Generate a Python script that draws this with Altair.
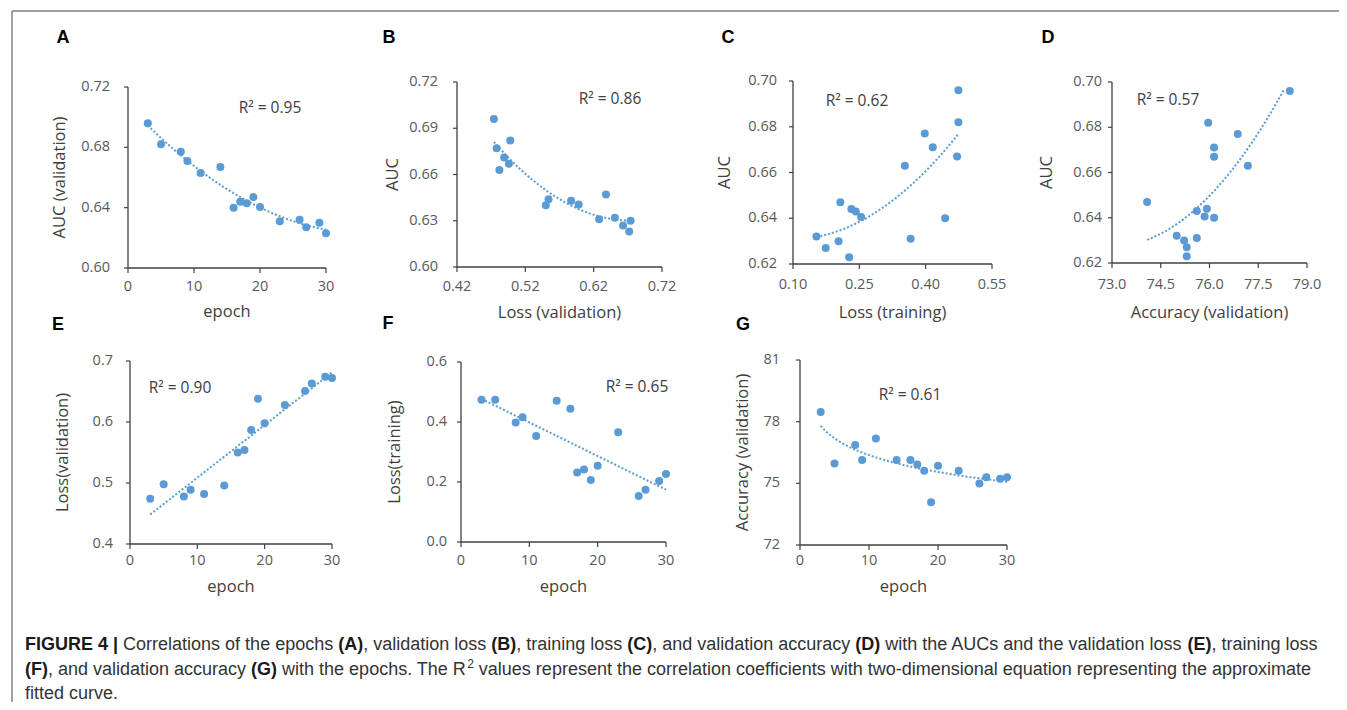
import altair as alt
import pandas as pd

# ---------------- data ----------------
epochs = [3, 5, 8, 9, 11, 14, 16, 17, 18, 19, 20, 23, 26, 27, 29, 30]
auc_val = [0.696, 0.682, 0.677, 0.671, 0.663, 0.667, 0.640, 0.644, 0.643, 0.647,
           0.6405, 0.631, 0.632, 0.627, 0.630, 0.623]
loss_val = [0.474, 0.498, 0.478, 0.489, 0.482, 0.496, 0.550, 0.554, 0.587, 0.638,
            0.598, 0.628, 0.651, 0.663, 0.674, 0.672]
loss_train = [0.474, 0.474, 0.398, 0.416, 0.353, 0.471, 0.444, 0.232, 0.242, 0.207,
              0.254, 0.366, 0.153, 0.174, 0.203, 0.227]
acc_val = [78.47, 75.96, 76.87, 76.14, 77.18, 76.14, 76.14, 75.92, 75.61, 74.08,
           75.85, 75.61, 74.99, 75.30, 75.22, 75.30]

panel_letters = ["A", "B", "C", "D", "E", "F", "G"]
r2_labels = ["R² = 0.95", "R² = 0.86", "R² = 0.62", "R² = 0.57",
             "R² = 0.90", "R² = 0.65", "R² = 0.61"]
x_titles = ["epoch", "Loss (validation)", "Loss (training)", "Accuracy (validation)",
            "epoch", "epoch", "epoch"]
y_titles = ["AUC (validation)", "AUC", "AUC", "AUC",
            "Loss(validation)", "Loss(training)", "Accuracy (validation)"]
x_series = [epochs, loss_val, loss_train, acc_val, epochs, epochs, epochs]
y_series = [auc_val, auc_val, auc_val, auc_val, loss_val, loss_train, acc_val]
x_domains = [[0, 30], [0.42, 0.72], [0.10, 0.55], [73.0, 79.0], [0, 30], [0, 30], [0, 30]]
y_domains = [[0.60, 0.72], [0.60, 0.72], [0.62, 0.70], [0.62, 0.70], [0.4, 0.7], [0.0, 0.6], [72, 81]]
x_ticks = [[0, 10, 20, 30], [0.42, 0.52, 0.62, 0.72], [0.10, 0.25, 0.40, 0.55],
           [73.0, 74.5, 76.0, 77.5, 79.0], [0, 10, 20, 30], [0, 10, 20, 30], [0, 10, 20, 30]]
y_ticks = [[0.60, 0.64, 0.68, 0.72], [0.60, 0.63, 0.66, 0.69, 0.72],
           [0.62, 0.64, 0.66, 0.68, 0.70], [0.62, 0.64, 0.66, 0.68, 0.70],
           [0.4, 0.5, 0.6, 0.7], [0.0, 0.2, 0.4, 0.6], [72, 75, 78, 81]]
x_formats = ["d", ".2f", ".2f", ".1f", "d", "d", "d"]
y_formats = [".2f", ".2f", ".2f", ".2f", ".1f", ".1f", "d"]
fit_methods = ["poly", "poly", "poly", "poly", "linear", "linear", "log"]

caption_line1 = [("FIGURE 4 |", "bold"), (" Correlations of the epochs ", "normal"), ("(A)", "bold"),
                 (", validation loss ", "normal"), ("(B)", "bold"), (", training loss ", "normal"),
                 ("(C)", "bold"), (", and validation accuracy ", "normal"), ("(D)", "bold"),
                 (" with the AUCs and the validation loss ", "normal"), ("(E)", "bold"),
                 (", training loss", "normal")]
caption_line2 = [("(F)", "bold"), (", and validation accuracy ", "normal"), ("(G)", "bold"),
                 (" with the epochs. The R", "normal"), ("2", "sup"),
                 (" values represent the correlation coefficients with two-dimensional equation representing the approximate", "normal")]
caption_line3 = [("fitted curve.", "normal")]

# ---------------- layout (pixels, chart coordinates) ----------------
W, H = 1331, 694
BLUE = "#5B9BD5"
AXIS_COL = "#404040"
LABEL_COL = "#595959"
FONT = "Open Sans"
x_ranges = [[120, 318], [449, 654], [785, 984], [1104, 1299], [122, 324], [453, 658], [792, 999]]
y_ranges = [[260, 79], [259, 74], [256, 73], [255, 74], [536, 353], [534, 354], [537, 352]]
y_title_x = [-68, -64, -68, -65, -67, -66, -57]
x_title_y = [44, 46, 49, 50, 43, 45, 42]
y_label_gap = [18, 19, 16, 10, 17, 14, 20]
x_label_gap = [19, 20, 21, 22, 17, 19, 16]
letter_pos = [(55, 30), (381, 30), (720, 30), (1040, 30), (50, 317), (380, 316), (735, 317)]
r2_pos = [(262, 100), (602, 91), (849, 93), (1160, 92), (172, 380), (629, 379), (902, 387)]

dummy = pd.DataFrame({"k": [0]})


def txt(x, y, s, **kw):
    return alt.Chart(dummy).mark_text(**kw).encode(
        x=alt.value(x), y=alt.value(y), text=alt.value(s))


def make_panel(i):
    df = pd.DataFrame({"x": x_series[i], "y": y_series[i]})
    xs = alt.Scale(domain=x_domains[i], range=x_ranges[i], nice=False, zero=False)
    ys = alt.Scale(domain=y_domains[i], range=y_ranges[i], nice=False, zero=False)
    X = lambda f: alt.X(f, scale=xs, axis=None)
    Y = lambda f: alt.Y(f, scale=ys, axis=None)
    x0, x1 = x_ranges[i]
    yb, yt = y_ranges[i]

    pts = alt.Chart(df).mark_circle(size=64, color=BLUE, opacity=1).encode(
        x=X("x:Q"), y=Y("y:Q"))
    if fit_methods[i] == "poly":
        reg = alt.Chart(df).transform_regression("x", "y", method="poly", order=2)
    else:
        reg = alt.Chart(df).transform_regression("x", "y", method=fit_methods[i])
    reg = reg.transform_filter(f"datum.y <= {y_domains[i][1]}")
    line = reg.mark_line(color=BLUE, strokeDash=[2, 2], strokeWidth=2).encode(
        x=X("x:Q"), y=Y("y:Q"))

    # axes drawn from the tick arrays through the panel scales
    xt = pd.DataFrame({"v": x_ticks[i]})
    yt_df = pd.DataFrame({"v": y_ticks[i]})
    x_dom = alt.Chart(dummy).mark_rule(color=AXIS_COL, strokeWidth=1.3).encode(
        x=alt.value(x0), x2=alt.value(x1), y=alt.value(yb))
    y_dom = alt.Chart(dummy).mark_rule(color=AXIS_COL, strokeWidth=1.3).encode(
        x=alt.value(x0), y=alt.value(yb), y2=alt.value(yt))
    x_tk = alt.Chart(xt).mark_rule(color=AXIS_COL, strokeWidth=1.2).encode(
        x=X("v:Q"), y=alt.value(yb), y2=alt.value(yb + 5))
    y_tk = alt.Chart(yt_df).mark_rule(color=AXIS_COL, strokeWidth=1.2).encode(
        y=Y("v:Q"), x=alt.value(x0 - 4), x2=alt.value(x0))
    x_lab = alt.Chart(xt).mark_text(font=FONT, fontSize=14.5, color=LABEL_COL,
                                    align="center", baseline="middle").encode(
        x=X("v:Q"), y=alt.value(yb + x_label_gap[i]),
        text=alt.Text("v:Q", format=x_formats[i]))
    y_lab = alt.Chart(yt_df).mark_text(font=FONT, fontSize=14.5, color=LABEL_COL,
                                       align="right", baseline="middle").encode(
        y=Y("v:Q"), x=alt.value(x0 - y_label_gap[i]),
        text=alt.Text("v:Q", format=y_formats[i]))
    x_tt = txt((x0 + x1) / 2, yb + x_title_y[i], x_titles[i], font=FONT, fontSize=16.5,
               color=AXIS_COL, align="center", baseline="middle")
    y_tt = txt(x0 + y_title_x[i], (yb + yt) / 2, y_titles[i], font=FONT, fontSize=16.5,
               color=AXIS_COL, align="center", baseline="middle", angle=270)
    letter = txt(letter_pos[i][0], letter_pos[i][1], panel_letters[i], font="Liberation Sans",
                 fontSize=18, fontWeight="bold", color="#000000", align="center",
                 baseline="middle")
    r2 = txt(r2_pos[i][0], r2_pos[i][1], r2_labels[i], font=FONT, fontSize=15.5,
             color=AXIS_COL, align="center", baseline="middle")
    return alt.layer(line, pts, x_dom, y_dom, x_tk, y_tk, x_lab, y_lab, x_tt, y_tt, letter, r2)


panels = [make_panel(i) for i in range(7)]

# frame
frame_left = alt.Chart(dummy).mark_rule(color="#808080", strokeWidth=1.5).encode(
    x=alt.value(4), y=alt.value(3), y2=alt.value(H))
frame_top = alt.Chart(dummy).mark_rule(color="#808080", strokeWidth=1.5).encode(
    x=alt.value(4), x2=alt.value(W), y=alt.value(3))

# ---------------- caption: flowed with Arial/Liberation Sans advance widths ----------------
ARIAL = {" ": 278, "(": 333, ")": 333, ",": 278, "-": 333, ".": 278, "|": 260,
         "A": 667, "B": 667, "C": 722, "D": 722, "E": 667, "F": 611, "G": 778, "I": 278,
         "R": 722, "T": 611, "U": 722,
         "a": 556, "b": 556, "c": 500, "d": 556, "e": 556, "f": 278, "g": 556, "h": 556,
         "i": 222, "j": 222, "k": 500, "l": 222, "m": 833, "n": 556, "o": 556, "p": 556,
         "q": 556, "r": 333, "s": 500, "t": 278, "u": 556, "v": 500, "w": 722, "x": 500,
         "y": 500, "z": 500}
ARIAL_B = {" ": 278, "(": 333, ")": 333, "|": 280, "A": 722, "B": 722, "C": 722, "D": 722,
           "E": 667, "F": 611, "G": 778, "I": 278, "R": 722, "U": 722}


def text_w(s, table, fs):
    return sum(table.get(ch, 556) for ch in s) / 1000.0 * fs


CAP_X0 = 17
CAP_FS = 18.0
SUP_FS = 12
line_y = [637, 662, 686]

caption_layers = []
for segs, yy in [(caption_line1, line_y[0]), (caption_line2, line_y[1]), (caption_line3, line_y[2])]:
    cx = CAP_X0
    for s, style in segs:
        if style == "sup":
            caption_layers.append(txt(cx + 1, yy - 6, s, font="Liberation Sans", fontSize=SUP_FS,
                                      color="#333333", align="left", baseline="middle"))
            cx += text_w(s, ARIAL, SUP_FS) + 1
            continue
        table = ARIAL_B if style == "bold" else ARIAL
        lead = len(s) - len(s.lstrip(" "))
        start = cx + text_w(" " * lead, table, CAP_FS)
        caption_layers.append(txt(start, yy, s.strip(" "), font="Liberation Sans", fontSize=CAP_FS,
                                  fontWeight="bold" if style == "bold" else "normal",
                                  color="#1a1a1a" if style == "bold" else "#333333",
                                  align="left", baseline="middle"))
        cx += text_w(s, table, CAP_FS)

chart = alt.layer(*panels, frame_left, frame_top, *caption_layers).resolve_scale(
    x="independent", y="independent"
).properties(
    width=W, height=H, padding=0,
    autosize=alt.AutoSizeParams(type="none"),
).configure_view(stroke=None)

chart.save("out.html", embed_options={"renderer": "svg", "actions": False})
